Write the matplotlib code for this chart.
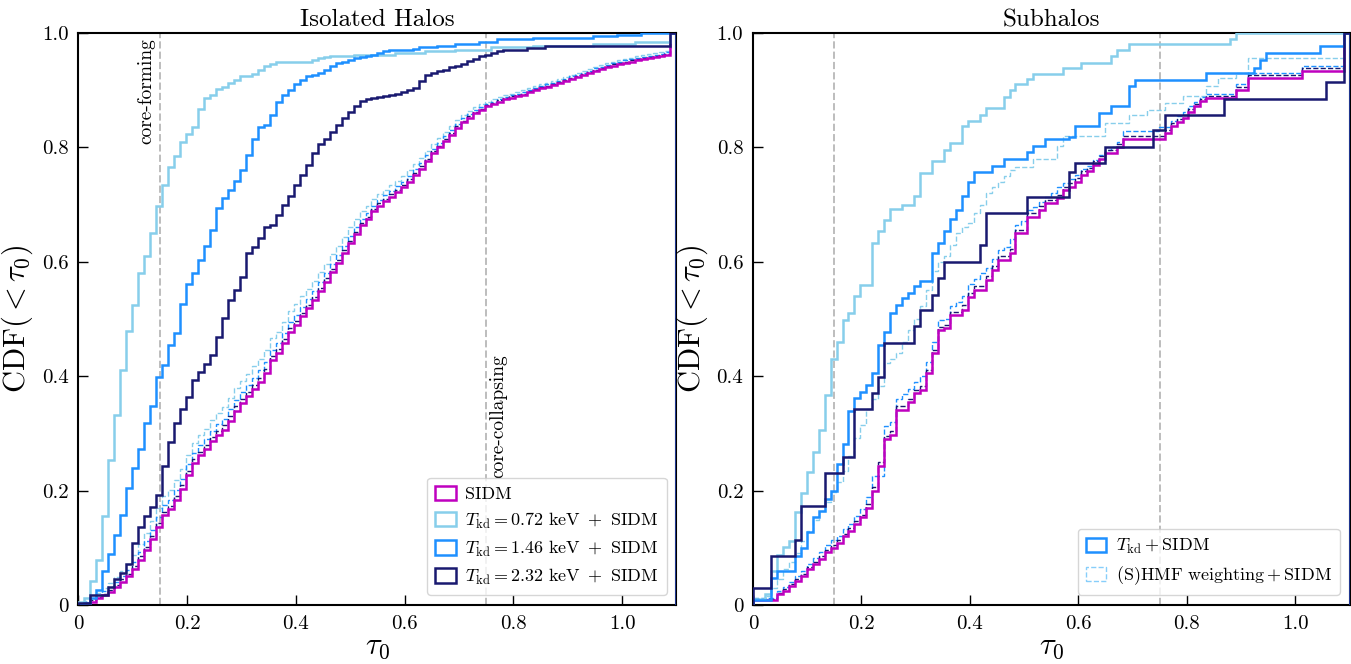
import matplotlib.pyplot as plt
import numpy as np
from matplotlib.ticker import FuncFormatter
from matplotlib.patches import Patch

plt.rcParams['font.family'] = 'cmr10'
plt.rcParams['mathtext.fontset'] = 'cm'
plt.rcParams['axes.formatter.use_mathtext'] = True

# cumulative fractions per tau_0 bin (100 bins on [0, 1.1])
tau_edges = np.linspace(0, 1.1, 101)

# ---- isolated halos ----
iso_sidm = [0.002, 0.003, 0.006, 0.012, 0.018, 0.023, 0.032, 0.041, 0.050, 0.063,
            0.079, 0.096, 0.115, 0.137, 0.158, 0.167, 0.184, 0.202, 0.228, 0.249,
            0.262, 0.272, 0.287, 0.297, 0.306, 0.322, 0.340, 0.353, 0.365, 0.378,
            0.390, 0.405, 0.428, 0.440, 0.458, 0.478, 0.490, 0.505, 0.519, 0.533,
            0.549, 0.565, 0.582, 0.598, 0.615, 0.632, 0.648, 0.664, 0.675, 0.688,
            0.698, 0.706, 0.714, 0.722, 0.730, 0.740, 0.752, 0.763, 0.776, 0.790,
            0.800, 0.812, 0.822, 0.834, 0.845, 0.852, 0.860, 0.865, 0.872, 0.876,
            0.880, 0.884, 0.887, 0.889, 0.892, 0.896, 0.900, 0.903, 0.906, 0.909,
            0.912, 0.916, 0.920, 0.923, 0.926, 0.930, 0.934, 0.937, 0.940, 0.943,
            0.946, 0.948, 0.950, 0.952, 0.954, 0.956, 0.958, 0.960, 0.962, 1.000]

iso_072 = [0.005, 0.012, 0.042, 0.079, 0.155, 0.254, 0.332, 0.410, 0.479, 0.524,
           0.581, 0.610, 0.651, 0.698, 0.735, 0.766, 0.785, 0.809, 0.823, 0.835,
           0.867, 0.886, 0.892, 0.902, 0.906, 0.913, 0.918, 0.925, 0.925, 0.929,
           0.935, 0.942, 0.946, 0.950, 0.950, 0.950, 0.950, 0.950, 0.950, 0.953,
           0.956, 0.958, 0.960, 0.960, 0.960, 0.960, 0.962, 0.962, 0.962, 0.962,
           0.962, 0.962, 0.962, 0.965, 0.965, 0.965, 0.965, 0.965, 0.968, 0.968,
           0.968, 0.968, 0.968, 0.970, 0.970, 0.970, 0.970, 0.970, 0.970, 0.975,
           0.975, 0.975, 0.975, 0.975, 0.975, 0.975, 0.978, 0.978, 0.978, 0.978,
           0.978, 0.978, 0.978, 0.978, 0.978, 0.978, 0.980, 0.980, 0.980, 0.980,
           0.980, 0.980, 0.980, 0.985, 0.985, 0.985, 0.985, 0.985, 0.985, 1.000]

iso_146 = [0.002, 0.003, 0.012, 0.027, 0.060, 0.089, 0.122, 0.158, 0.204, 0.240,
           0.272, 0.319, 0.348, 0.398, 0.419, 0.454, 0.475, 0.527, 0.562, 0.581,
           0.603, 0.627, 0.656, 0.694, 0.711, 0.726, 0.742, 0.760, 0.786, 0.815,
           0.835, 0.840, 0.857, 0.880, 0.892, 0.901, 0.910, 0.918, 0.924, 0.927,
           0.930, 0.936, 0.942, 0.948, 0.950, 0.953, 0.956, 0.958, 0.960, 0.962,
           0.965, 0.968, 0.970, 0.970, 0.970, 0.970, 0.972, 0.975, 0.975, 0.975,
           0.978, 0.978, 0.978, 0.981, 0.981, 0.981, 0.981, 0.984, 0.984, 0.984,
           0.990, 0.990, 0.990, 0.990, 0.990, 0.990, 0.992, 0.992, 0.992, 0.992,
           0.992, 0.992, 0.992, 0.992, 0.992, 0.992, 0.995, 0.995, 0.995, 0.995,
           0.997, 0.997, 0.997, 0.997, 1.000, 1.000, 1.000, 1.000, 1.000, 1.000]

iso_232 = [0.003, 0.003, 0.018, 0.018, 0.018, 0.032, 0.046, 0.056, 0.071, 0.108,
           0.137, 0.155, 0.172, 0.193, 0.243, 0.285, 0.319, 0.342, 0.363, 0.393,
           0.408, 0.422, 0.437, 0.468, 0.501, 0.533, 0.550, 0.574, 0.616, 0.626,
           0.641, 0.661, 0.665, 0.682, 0.699, 0.715, 0.735, 0.752, 0.770, 0.790,
           0.806, 0.815, 0.827, 0.840, 0.852, 0.862, 0.872, 0.881, 0.884, 0.886,
           0.888, 0.890, 0.891, 0.894, 0.897, 0.900, 0.904, 0.916, 0.927, 0.930,
           0.933, 0.936, 0.940, 0.942, 0.946, 0.951, 0.955, 0.960, 0.962, 0.965,
           0.968, 0.971, 0.971, 0.971, 0.971, 0.974, 0.974, 0.974] + [0.978] * 21 + [1.000]

# (S)HMF-weighted versions
iso_072_hmf = [0.004, 0.007, 0.013, 0.021, 0.030, 0.038, 0.049, 0.060, 0.072, 0.088,
               0.106, 0.125, 0.146, 0.169, 0.190, 0.201, 0.218, 0.238, 0.263, 0.283,
               0.297, 0.308, 0.324, 0.335, 0.346, 0.362, 0.379, 0.392, 0.404, 0.417,
               0.430, 0.445, 0.466, 0.478, 0.495, 0.514, 0.526, 0.540, 0.553, 0.567,
               0.582, 0.597, 0.613, 0.628, 0.644, 0.660, 0.674, 0.688, 0.698, 0.709,
               0.718, 0.726, 0.734, 0.742, 0.750, 0.760, 0.771, 0.782, 0.794, 0.806,
               0.816, 0.827, 0.837, 0.848, 0.857, 0.864, 0.870, 0.875, 0.880, 0.884,
               0.888, 0.891, 0.894, 0.897, 0.900, 0.904, 0.907, 0.910, 0.913, 0.916,
               0.919, 0.923, 0.927, 0.930, 0.933, 0.937, 0.941, 0.944, 0.947, 0.950,
               0.953, 0.955, 0.957, 0.959, 0.961, 0.963, 0.965, 0.967, 0.969, 1.000]

iso_146_hmf = [0.003, 0.005, 0.010, 0.017, 0.024, 0.031, 0.041, 0.051, 0.062, 0.076,
               0.093, 0.111, 0.131, 0.153, 0.174, 0.184, 0.201, 0.221, 0.246, 0.266,
               0.279, 0.290, 0.305, 0.316, 0.326, 0.342, 0.359, 0.372, 0.384, 0.397,
               0.410, 0.425, 0.446, 0.458, 0.476, 0.495, 0.507, 0.521, 0.535, 0.549,
               0.564, 0.580, 0.596, 0.612, 0.628, 0.645, 0.660, 0.675, 0.686, 0.698,
               0.708, 0.716, 0.724, 0.732, 0.740, 0.750, 0.762, 0.773, 0.786, 0.798,
               0.808, 0.820, 0.830, 0.841, 0.851, 0.858, 0.865, 0.870, 0.876, 0.880,
               0.884, 0.888, 0.891, 0.893, 0.896, 0.900, 0.904, 0.907, 0.910, 0.913,
               0.916, 0.920, 0.924, 0.927, 0.930, 0.934, 0.938, 0.941, 0.944, 0.947,
               0.950, 0.952, 0.954, 0.956, 0.958, 0.960, 0.962, 0.964, 0.966, 1.000]

iso_232_hmf = [0.002, 0.004, 0.008, 0.014, 0.020, 0.026, 0.035, 0.045, 0.055, 0.068,
               0.085, 0.102, 0.121, 0.143, 0.163, 0.173, 0.190, 0.210, 0.235, 0.255,
               0.268, 0.279, 0.294, 0.304, 0.314, 0.330, 0.347, 0.360, 0.372, 0.385,
               0.397, 0.413, 0.435, 0.447, 0.465, 0.484, 0.496, 0.511, 0.525, 0.539,
               0.555, 0.571, 0.587, 0.603, 0.620, 0.637, 0.652, 0.668, 0.679, 0.692,
               0.702, 0.710, 0.718, 0.726, 0.734, 0.744, 0.756, 0.767, 0.780, 0.793,
               0.803, 0.815, 0.825, 0.837, 0.847, 0.855, 0.862, 0.867, 0.874, 0.878,
               0.882, 0.886, 0.889, 0.891, 0.894, 0.898, 0.902, 0.905, 0.908, 0.911,
               0.914, 0.918, 0.922, 0.925, 0.928, 0.932, 0.936, 0.939, 0.942, 0.945,
               0.948, 0.950, 0.952, 0.954, 0.956, 0.958, 0.960, 0.962, 0.963, 1.000]

# ---- subhalos ----
sub_sidm = ([0.008] * 4 +
            [0.019, 0.025, 0.034, 0.042, 0.051, 0.063,
             0.072, 0.081, 0.092, 0.100, 0.109, 0.120, 0.130, 0.141, 0.153, 0.170,
             0.200, 0.243, 0.290, 0.298, 0.341, 0.341, 0.355, 0.370, 0.376, 0.405,
             0.440, 0.481, 0.484, 0.507, 0.507, 0.516, 0.539, 0.551, 0.551, 0.568,
             0.586, 0.603, 0.603, 0.615, 0.650, 0.650, 0.679, 0.679, 0.691, 0.702,
             0.702, 0.711, 0.725, 0.731, 0.740, 0.752, 0.758, 0.770, 0.779, 0.790,
             0.790, 0.800] + [0.814] * 7 + [0.825,
             0.837, 0.845, 0.852, 0.862, 0.872, 0.881] + [0.886] * 5 +
            [0.901, 0.901] + [0.921] * 9 + [0.934] * 7 + [1.000])

sub_072 = ([0.010, 0.010, 0.020, 0.060, 0.087, 0.102, 0.112, 0.163, 0.195, 0.233,
            0.268, 0.306, 0.367, 0.430, 0.459, 0.499, 0.510, 0.541, 0.560, 0.560,
            0.632, 0.653, 0.673, 0.693, 0.693, 0.700, 0.700, 0.715, 0.755, 0.755,
            0.776, 0.776, 0.796, 0.807, 0.807, 0.837, 0.847, 0.847, 0.857, 0.869,
            0.869, 0.869, 0.888, 0.900, 0.911, 0.911, 0.920, 0.929, 0.929, 0.929,
            0.929, 0.929, 0.939, 0.939, 0.939, 0.948, 0.948, 0.948, 0.948, 0.948,
            0.959, 0.970, 0.970] + [0.980] * 17 + [0.990] + [1.000] * 19)

sub_146 = ([0.008, 0.008, 0.008, 0.048, 0.060, 0.060, 0.060, 0.086, 0.100, 0.127,
            0.153, 0.165, 0.185, 0.200, 0.246, 0.281, 0.339, 0.362, 0.372, 0.385,
            0.406, 0.455, 0.478, 0.511, 0.525, 0.537, 0.546, 0.557, 0.566, 0.566,
            0.616, 0.633, 0.654, 0.674, 0.691, 0.715, 0.740, 0.757, 0.757, 0.757,
            0.767, 0.767, 0.779, 0.779, 0.779, 0.779, 0.792, 0.802, 0.802, 0.815,
            0.815, 0.815, 0.815, 0.818, 0.837, 0.837, 0.837, 0.837, 0.860, 0.860,
            0.872, 0.872, 0.872, 0.907] + [0.918] * 12 + [0.930] * 8 +
           [0.939, 0.953] + [0.965] * 9 + [0.977] * 4 + [1.000])

sub_232 = ([0.029, 0.029, 0.029, 0.086, 0.086, 0.086, 0.086, 0.114, 0.173, 0.173,
            0.173, 0.173, 0.230, 0.230, 0.230, 0.259, 0.259, 0.342, 0.342, 0.342,
            0.371, 0.399, 0.458, 0.458, 0.458, 0.458, 0.458, 0.487, 0.515, 0.515,
            0.542, 0.571, 0.600, 0.600, 0.600, 0.600, 0.600, 0.600, 0.629, 0.685]
           + [0.685] * 6 + [0.714] * 7 + [0.757] + [0.772] * 5 + [0.800] * 8 +
           [0.830, 0.830] + [0.857] * 10 + [0.885] * 17 + [0.914] * 3 + [1.000])

sub_072_hmf = ([0.010, 0.010, 0.015, 0.030, 0.045, 0.063, 0.075, 0.090, 0.112, 0.130,
                0.148, 0.165, 0.180, 0.197, 0.215, 0.234, 0.260, 0.292, 0.315, 0.342,
                0.360, 0.383, 0.423, 0.430, 0.441, 0.460, 0.480, 0.500, 0.523, 0.550,
                0.584, 0.600, 0.610, 0.630, 0.651, 0.660, 0.668, 0.685, 0.700, 0.720,
                0.730, 0.740, 0.750, 0.761, 0.765, 0.765, 0.765, 0.779, 0.779, 0.779,
                0.779, 0.802] + [0.820] * 7 + [0.843] * 4 + [0.857] * 3 +
               [0.866] * 3 + [0.878] * 3 + [0.889] * 4 + [0.907] * 2 + [0.921] * 3 +
               [0.930] * 2 + [0.956] * 16 + [1.000])

sub_146_hmf = ([0.012] * 4 +
               [0.024, 0.032, 0.040, 0.050, 0.060, 0.072,
                0.082, 0.092, 0.104, 0.113, 0.121, 0.132, 0.142, 0.155, 0.168, 0.188,
                0.226, 0.226, 0.313, 0.320, 0.360, 0.368, 0.378, 0.390, 0.400, 0.425,
                0.460, 0.498, 0.500, 0.522, 0.530, 0.540, 0.562, 0.570, 0.580, 0.590,
                0.605, 0.620, 0.625, 0.640, 0.665, 0.672, 0.690, 0.695, 0.705, 0.714,
                0.720, 0.730, 0.738, 0.745, 0.752, 0.762, 0.768, 0.778, 0.786, 0.795,
                0.800, 0.810] + [0.828] * 6 + [0.836, 0.836,
                0.846, 0.855, 0.862, 0.872, 0.880, 0.888] + [0.893] * 5 +
               [0.910, 0.910] + [0.930] * 9 + [0.942] * 7 + [1.000])

sub_232_hmf = ([0.010] * 4 +
               [0.021, 0.028, 0.037, 0.045, 0.054, 0.066,
                0.075, 0.085, 0.096, 0.104, 0.113, 0.124, 0.134, 0.146, 0.158, 0.176,
                0.206, 0.250, 0.296, 0.305, 0.347, 0.347, 0.360, 0.375, 0.382, 0.410,
                0.446, 0.486, 0.490, 0.513, 0.513, 0.524, 0.546, 0.558, 0.558, 0.575,
                0.593, 0.610, 0.610, 0.622, 0.656, 0.656, 0.685, 0.685, 0.697, 0.708,
                0.708, 0.717, 0.731, 0.737, 0.746, 0.758, 0.764, 0.776, 0.785, 0.796,
                0.796, 0.806] + [0.820] * 7 + [0.831,
                0.842, 0.850, 0.857, 0.867, 0.876, 0.885] + [0.890] * 5 +
               [0.905, 0.905] + [0.926] * 9 + [0.938] * 7 + [1.000])

tkd_values = ['0.72', '1.46', '2.32']
tkd_colors = ['skyblue', 'dodgerblue', 'midnightblue']
sidm_color = 'm'

legend_kw = dict(loc='lower right', fontsize=13, handlelength=1.15, handleheight=0.85,
                 handletextpad=0.5, borderaxespad=0.55, labelspacing=0.45,
                 borderpad=0.45)


def tick_fmt(v, pos):
    return '0' if abs(v) < 1e-9 else f'{v:.1f}'


def box(color, lw=1.8, ls='-'):
    return Patch(facecolor='none', edgecolor=color, lw=lw, ls=ls)


def draw_panel(ax, sidm, solids, weighted, title):
    ax.stairs(sidm, tau_edges, color=sidm_color, lw=1.8, zorder=3)
    for cdf, cdf_w, col in zip(solids, weighted, tkd_colors):
        ax.stairs(cdf, tau_edges, color=col, lw=1.8, zorder=3)
        ax.stairs(cdf_w, tau_edges, color=col, lw=1.0, ls='--', zorder=2)

    for x0 in (0.15, 0.75):
        ax.axvline(x0, color='#bdbdbd', ls='--', lw=1.4, zorder=1)

    ax.set_xlim(0, 1.1)
    ax.set_ylim(0, 1)
    ax.set_xticks([0, 0.2, 0.4, 0.6, 0.8, 1.0])
    ax.set_yticks([0, 0.2, 0.4, 0.6, 0.8, 1.0])
    ax.xaxis.set_major_formatter(FuncFormatter(tick_fmt))
    ax.yaxis.set_major_formatter(FuncFormatter(tick_fmt))
    ax.tick_params(direction='in', length=7, width=1.0, labelsize=15, pad=7)
    for sp in ax.spines.values():
        sp.set_linewidth(1.5)
    ax.set_xlabel(r'$\tau_0$', fontsize=22, labelpad=1)
    ax.set_ylabel(r'${\rm CDF}(<\tau_0)$', fontsize=22, labelpad=5)
    ax.set_title(title, fontsize=18, pad=5)


fig = plt.figure(figsize=(13.51, 6.64), dpi=100)
ax_iso = fig.add_axes([0.0581, 0.0889, 0.4426, 0.8614])
ax_sub = fig.add_axes([0.5574, 0.0889, 0.4415, 0.8614])

draw_panel(ax_iso, iso_sidm, [iso_072, iso_146, iso_232],
           [iso_072_hmf, iso_146_hmf, iso_232_hmf], 'Isolated Halos')
draw_panel(ax_sub, sub_sidm, [sub_072, sub_146, sub_232],
           [sub_072_hmf, sub_146_hmf, sub_232_hmf], 'Subhalos')

ax_iso.text(0.124, 0.99, 'core-forming', rotation=90, ha='center', va='top', fontsize=14)
ax_iso.text(0.772, 0.222, 'core-collapsing', rotation=90, ha='center', va='bottom',
            fontsize=14)

iso_handles = [box(sidm_color)] + [box(c) for c in tkd_colors]
iso_labels = ['SIDM'] + [r'$T_{\rm kd}=' + t + r'\ {\rm keV}\ +\ {\rm SIDM}$'
                         for t in tkd_values]
ax_iso.legend(iso_handles, iso_labels, **legend_kw)

sub_handles = [box('dodgerblue'), box('lightskyblue', lw=1.0, ls='--')]
sub_labels = [r'$T_{\rm kd}+{\rm SIDM}$', r'${\rm (S)HMF\ weighting}+{\rm SIDM}$']
ax_sub.legend(sub_handles, sub_labels, **legend_kw)

fig.savefig('out.png', dpi=100)
